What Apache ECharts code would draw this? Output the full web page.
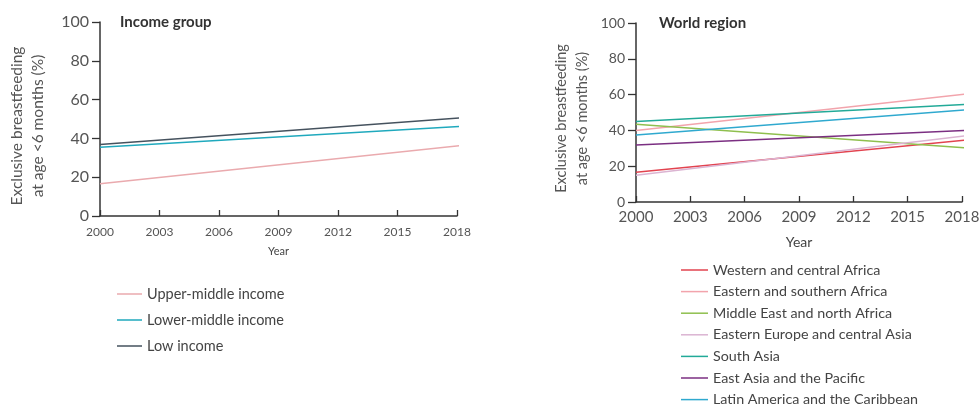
<!DOCTYPE html>
<html>
<head>
<meta charset="utf-8">
<script src="https://cdn.jsdelivr.net/npm/echarts@6/dist/echarts.min.js"></script>
<style>html,body{margin:0;padding:0;background:#fff}#c{width:979px;height:408px}</style>
</head>
<body>
<div id="c"></div>
<script>
const years = [2000, 2018.6];
const xTicks = [2000, 2003, 2006, 2009, 2012, 2015, 2018];
const yTicks = [0, 20, 40, 60, 80, 100];

const incomeNames = ['Upper-middle income', 'Lower-middle income', 'Low income'];
const upperMiddle = [16.6, 36.8];
const lowerMiddle = [35.4, 46.4];
const lowIncome = [36.8, 50.9];

const regionNames = ['Western and central Africa', 'Eastern and southern Africa', 'Middle East and north Africa',
  'Eastern Europe and central Asia', 'South Asia', 'East Asia and the Pacific', 'Latin America and the Caribbean'];
const westCentralAfrica = [16.6, 35.0];
const eastSouthAfrica = [40.0, 60.8];
const middleEast = [43.4, 29.9];
const easternEurope = [15.0, 37.5];
const southAsia = [45.0, 54.7];
const eastAsia = [31.8, 40.2];
const latinAmerica = [37.4, 51.8];

const incomeValues = [upperMiddle, lowerMiddle, lowIncome];
const incomeColors = ['#eaaaae', '#1fa9bd', '#45525e'];
const regionValues = [westCentralAfrica, eastSouthAfrica, middleEast, easternEurope, southAsia, eastAsia, latinAmerica];
const regionColors = ['#e2434f', '#f2a4ac', '#8fbf4e', '#dbb4d2', '#22aa98', '#7b2f82', '#2fa9cf'];

const font = 'Lato';
const axisColor = '#333';

function xAxisCfg(gi, labelSize, nameSize, nameGap, labelMargin) {
  return {
    type: 'value', gridIndex: gi, min: 2000, max: 2018, interval: 3,
    name: 'Year', nameLocation: 'middle', nameGap: nameGap, nameMoveOverlap: false,
    nameTextStyle: {fontFamily: font, fontSize: nameSize, color: '#444'},
    axisLine: {lineStyle: {color: axisColor, width: 1.5}},
    axisTick: {inside: true, length: 6, lineStyle: {color: axisColor, width: 1.3}},
    axisLabel: {fontFamily: font, fontSize: labelSize, color: '#555', margin: labelMargin,
      customValues: xTicks, formatter: v => String(v)},
    splitLine: {show: false}
  };
}
function yAxisCfg(gi, labelSize, nameGap, nameSize, namePad) {
  return {
    type: 'value', gridIndex: gi, min: 0, max: 100, interval: 20,
    name: 'Exclusive breastfeeding\nat age <6 months (%)', nameLocation: 'middle', nameRotate: 90, nameGap: nameGap,
    nameMoveOverlap: false,
    nameTextStyle: {fontFamily: font, fontSize: nameSize, color: '#555', lineHeight: 21, padding: [0, namePad, 0, 0]},
    axisLine: {show: true, lineStyle: {color: axisColor, width: 1.5}},
    axisTick: {show: true, length: 8, lineStyle: {color: axisColor, width: 1.3}},
    axisLabel: {fontFamily: font, fontSize: labelSize, color: '#555', margin: 11,
      customValues: yTicks},
    splitLine: {show: false}
  };
}

const series = [];
incomeNames.forEach((n, i) => {
  series.push({
    name: n, type: 'line', xAxisIndex: 0, yAxisIndex: 0, clip: false, symbol: 'none',
    lineStyle: {color: incomeColors[i], width: 1.5}, itemStyle: {color: incomeColors[i]},
    data: years.map((y, k) => [y, incomeValues[i][k]])
  });
});
regionNames.forEach((n, i) => {
  series.push({
    name: n, type: 'line', xAxisIndex: 1, yAxisIndex: 1, clip: false, symbol: 'none',
    lineStyle: {color: regionColors[i], width: 1.5}, itemStyle: {color: regionColors[i]},
    data: years.map((y, k) => [y, regionValues[i][k]])
  });
});

const chart = echarts.init(document.getElementById('c'), null, {renderer: 'canvas'});
chart.setOption({
  animation: false,
  backgroundColor: '#fff',
  title: [
    {text: 'Income group', left: 120, top: 15, padding: 0, textStyle: {fontFamily: font, fontSize: 15, fontWeight: 'bold', color: '#333'}},
    {text: 'World region', left: 659, top: 16, padding: 0, textStyle: {fontFamily: font, fontSize: 15, fontWeight: 'bold', color: '#333'}}
  ],
  grid: [
    {left: 100, top: 22, width: 357, height: 194, outerBoundsMode: 'none', containLabel: false},
    {left: 636, top: 23, width: 326, height: 179, outerBoundsMode: 'none', containLabel: false}
  ],
  xAxis: [xAxisCfg(0, 12, 11, 30, 10), xAxisCfg(1, 15, 14, 33, 8)],
  yAxis: [yAxisCfg(0, 16, 52, 15.5, 14), yAxisCfg(1, 14, 43, 14.5, 12)],
  legend: [
    {data: incomeNames, orient: 'vertical', left: 117, top: 286, height: 120, padding: 0, itemGap: 10, itemWidth: 25, itemHeight: 1.5,
      icon: 'rect', textStyle: {fontFamily: font, fontSize: 14.5, color: '#444', lineHeight: 16}},
    {data: regionNames, orient: 'vertical', left: 681, top: 262, height: 200, padding: 0, itemGap: 5.6, itemWidth: 27, itemHeight: 1.5,
      icon: 'rect', textStyle: {fontFamily: font, fontSize: 14.3, color: '#444', lineHeight: 16}}
  ],
  series: series
});
</script>
</body>
</html>
